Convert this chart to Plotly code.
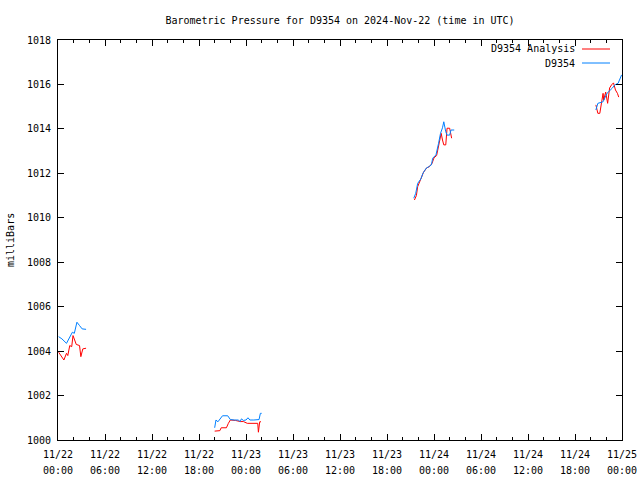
import plotly.graph_objects as go

# ---- data ----
analysis_times = [
    "2024-11-22 00:05", "2024-11-22 00:30", "2024-11-22 00:45", "2024-11-22 01:05", "2024-11-22 01:15",
    "2024-11-22 01:30", "2024-11-22 01:45", "2024-11-22 01:55", "2024-11-22 02:20", "2024-11-22 02:45",
    "2024-11-22 02:55", "2024-11-22 03:10", "2024-11-22 03:35",
    None,
    "2024-11-22 20:00", "2024-11-22 20:40", "2024-11-22 20:50", "2024-11-22 21:30", "2024-11-22 21:45",
    "2024-11-22 22:00", "2024-11-22 22:40", "2024-11-22 23:15", "2024-11-22 23:40", "2024-11-23 00:10",
    "2024-11-23 01:30", "2024-11-23 01:35", "2024-11-23 01:45", "2024-11-23 01:55",
    None,
    "2024-11-23 21:30", "2024-11-23 21:45", "2024-11-23 21:55", "2024-11-23 22:25", "2024-11-23 22:40",
    "2024-11-23 23:05", "2024-11-23 23:25", "2024-11-23 23:45", "2024-11-24 00:00", "2024-11-24 00:20",
    "2024-11-24 00:30", "2024-11-24 00:45", "2024-11-24 00:55", "2024-11-24 01:05", "2024-11-24 01:15",
    "2024-11-24 01:30", "2024-11-24 01:40", "2024-11-24 02:00", "2024-11-24 02:05", "2024-11-24 02:15",
    None,
    "2024-11-24 20:40", "2024-11-24 20:55", "2024-11-24 21:10", "2024-11-24 21:20", "2024-11-24 21:35",
    "2024-11-24 21:40", "2024-11-24 21:55", "2024-11-24 22:10", "2024-11-24 22:25", "2024-11-24 22:40",
    "2024-11-24 22:55", "2024-11-24 23:10", "2024-11-24 23:25", "2024-11-24 23:35",
]
analysis_values = [
    1003.95, 1003.75, 1003.6, 1003.9, 1003.8,
    1004.25, 1004.2, 1004.7, 1004.3, 1004.25,
    1003.75, 1004.1, 1004.13,
    None,
    1000.4, 1000.42, 1000.55, 1000.55, 1000.75,
    1000.9, 1000.88, 1000.83, 1000.83, 1000.75,
    1000.75, 1000.35, 1000.82, 1000.82,
    None,
    1010.8, 1011.0, 1011.4, 1011.88, 1012.05,
    1012.25, 1012.3, 1012.45, 1012.7, 1012.8,
    1013.1, 1013.58, 1013.8, 1013.5, 1013.28,
    1013.28, 1014.03, 1014.03, 1013.8, 1013.58,
    None,
    1015.08, 1014.7, 1014.7, 1015.15, 1015.6,
    1015.3, 1015.66, 1015.15, 1015.84, 1015.98,
    1016.07, 1015.75, 1015.6, 1015.43,
]

obs_times = [
    "2024-11-22 00:05", "2024-11-22 00:30", "2024-11-22 01:05", "2024-11-22 01:25", "2024-11-22 01:50",
    "2024-11-22 02:05", "2024-11-22 02:25", "2024-11-22 02:45", "2024-11-22 03:05", "2024-11-22 03:35",
    None,
    "2024-11-22 20:00", "2024-11-22 20:10", "2024-11-22 20:25", "2024-11-22 20:45", "2024-11-22 21:00",
    "2024-11-22 21:40", "2024-11-22 22:00", "2024-11-22 22:30", "2024-11-22 23:00", "2024-11-22 23:15",
    "2024-11-22 23:25", "2024-11-22 23:40", "2024-11-23 00:00", "2024-11-23 00:15", "2024-11-23 00:30",
    "2024-11-23 01:00", "2024-11-23 01:40", "2024-11-23 01:50", "2024-11-23 02:00",
    None,
    "2024-11-23 21:25", "2024-11-23 21:40", "2024-11-23 21:55", "2024-11-23 22:20", "2024-11-23 22:35",
    "2024-11-23 23:00", "2024-11-23 23:20", "2024-11-23 23:40", "2024-11-23 23:50", "2024-11-24 00:15",
    "2024-11-24 00:35", "2024-11-24 00:50", "2024-11-24 01:05", "2024-11-24 01:15", "2024-11-24 01:30",
    "2024-11-24 01:40", "2024-11-24 02:00", "2024-11-24 02:10", "2024-11-24 02:35",
    None,
    "2024-11-24 20:40", "2024-11-24 20:55", "2024-11-24 21:35", "2024-11-24 22:05", "2024-11-24 22:45",
    "2024-11-24 23:05", "2024-11-24 23:30", "2024-11-24 23:45", "2024-11-24 23:57",
]
obs_values = [
    1004.65, 1004.55, 1004.35, 1004.6, 1004.85,
    1004.8, 1005.3, 1005.15, 1005.0, 1004.98,
    None,
    1000.55, 1000.9, 1000.82, 1000.95, 1001.09,
    1001.09, 1000.92, 1000.9, 1000.9, 1000.83,
    1000.95, 1000.88, 1000.9, 1001.0, 1000.9,
    1000.9, 1000.92, 1001.2, 1001.2,
    None,
    1010.88, 1011.1, 1011.55, 1011.75, 1012.0,
    1012.23, 1012.3, 1012.38, 1012.68, 1012.83,
    1013.35, 1013.8, 1014.05, 1014.32, 1013.87,
    1013.72, 1013.72, 1013.95, 1013.95,
    None,
    1014.85, 1015.15, 1015.22, 1015.6, 1015.83,
    1015.98, 1016.05, 1016.28, 1016.43,
]

series_names = ["D9354 Analysis", "D9354"]
series_colors = ["#ff0000", "#0080ff"]
title_text = "Barometric Pressure for D9354 on 2024-Nov-22 (time in UTC)"
y_label = "milliBars"
x_range = ["2024-11-22 00:00", "2024-11-25 00:00"]
y_range = [1000, 1018]

FONT = "DejaVu Sans Mono"
W, H = 640, 480
PL, PT, PW, PH = 58, 40, 564, 400  # plot area in pixels

fig = go.Figure()
fig.add_trace(go.Scatter(x=analysis_times, y=analysis_values, mode="lines",
                         name=series_names[0], line=dict(color=series_colors[0], width=1),
                         connectgaps=False))
fig.add_trace(go.Scatter(x=obs_times, y=obs_values, mode="lines",
                         name=series_names[1], line=dict(color=series_colors[1], width=1),
                         connectgaps=False))
# invisible helper trace so the second (time-of-day) label axis is drawn
fig.add_trace(go.Scatter(x=x_range, y=y_range, mode="lines", xaxis="x2",
                         line=dict(width=0), hoverinfo="skip", showlegend=False, opacity=0))

fig.update_layout(
    width=W, height=H,
    margin=dict(l=PL, r=W - PL - PW, t=PT, b=H - PT - PH),
    paper_bgcolor="white", plot_bgcolor="white",
    font=dict(family=FONT, size=10, color="black"),
    showlegend=False,
    title=dict(text=title_text, x=0.5, xref="paper", xanchor="center", y=1 - 20 / H,
               yanchor="middle", yref="container", font=dict(family=FONT, size=10, color="black")),
    xaxis=dict(
        type="date", range=x_range, automargin=False, ticklabeloverflow="allow",
        dtick=6 * 3600 * 1000, tick0="2024-11-22 00:00",
        tickformat="%m/%d", ticklabelstandoff=5,
        ticks="inside", ticklen=6, tickcolor="black", tickwidth=1,
        minor=dict(dtick=2 * 3600 * 1000, ticks="inside", ticklen=3, tickcolor="black"),
        showline=True, linecolor="black", linewidth=1, mirror="ticks",
        showgrid=False, zeroline=False,
        tickfont=dict(family=FONT, size=10, color="black"),
    ),
    xaxis2=dict(
        type="date", range=x_range, automargin=False, overlaying="x", side="bottom",
        anchor="y", dtick=6 * 3600 * 1000, tick0="2024-11-22 00:00", ticklabeloverflow="allow",
        tickformat="%H:%M", ticklabelstandoff=23,
        ticks="", showline=False, showgrid=False, zeroline=False,
        tickfont=dict(family=FONT, size=10, color="black"),
    ),
    yaxis=dict(
        range=y_range, dtick=2, tick0=1000, automargin=False,
        ticks="inside", ticklen=6, tickcolor="black", tickwidth=1, ticklabelstandoff=4,
        showline=True, linecolor="black", linewidth=1, mirror="ticks",
        showgrid=False, zeroline=False,
        tickfont=dict(family=FONT, size=10, color="black"),
    ),
)

# y-axis label
fig.add_annotation(text=y_label, xref="paper", yref="paper", x=(10 - PL) / PW, y=0.5,
                   textangle=-90, showarrow=False, xanchor="center", yanchor="middle",
                   font=dict(family=FONT, size=10, color="black"))

# legend drawn at top right (text right-aligned, sample line to the right)
legend_rows_y = [49, 63]  # pixel rows from top
for name, color, py in zip(series_names, series_colors, legend_rows_y):
    yp = 1 - (py - PT) / PH
    fig.add_annotation(text=name, xref="paper", yref="paper", x=(577 - PL) / PW, y=yp,
                       xanchor="right", yanchor="middle", showarrow=False,
                       font=dict(family=FONT, size=10, color="black"))
    fig.add_shape(type="line", xref="paper", yref="paper",
                  x0=(582 - PL) / PW, x1=(610 - PL) / PW, y0=yp, y1=yp,
                  line=dict(color=color, width=1))

fig.write_html("out.html", config={"displayModeBar": False},
               post_script="document.body.style.margin='0';")
